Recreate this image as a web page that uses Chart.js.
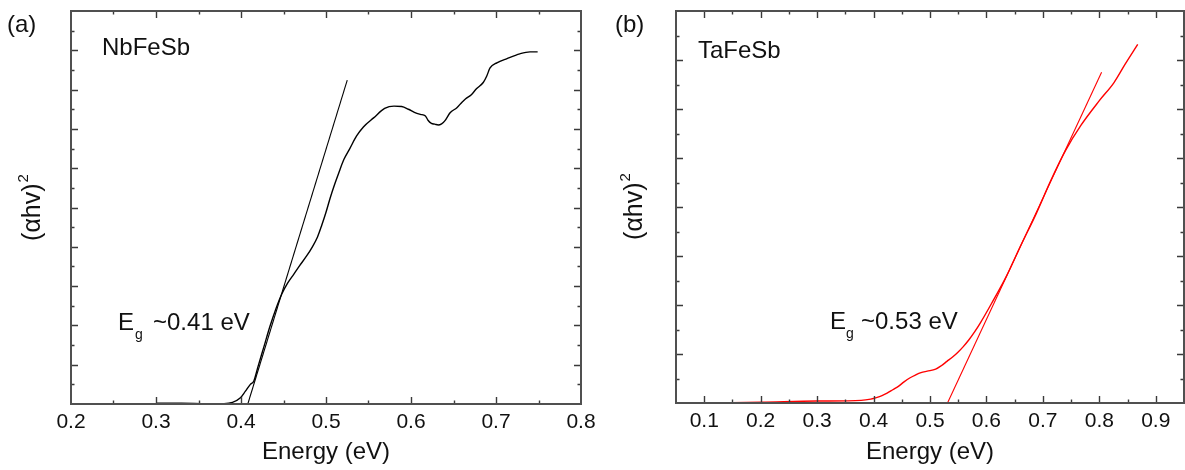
<!DOCTYPE html>
<html><head><meta charset="utf-8">
<script src="https://cdn.jsdelivr.net/npm/chart.js@4.4.1/dist/chart.umd.min.js"></script>
<style>
html,body{margin:0;padding:0;background:#fff;width:1185px;height:470px;overflow:hidden;}
#wa{position:absolute;left:0;top:0;width:600px;height:470px;}
#wb{position:absolute;left:600px;top:0;width:585px;height:470px;}
</style></head><body>
<div id="wa"><canvas id="ca" width="600" height="470"></canvas></div>
<div id="wb"><canvas id="cb" width="585" height="470"></canvas></div>
<script>
// ---- Panel (a): NbFeSb ----
const energyA = [0.300,0.330,0.360,0.380,0.390,0.399,0.405,0.411,0.415,0.420,0.427,0.434,0.441,0.448,0.455,0.462,0.469,0.477,0.484,0.490,0.495,0.500,0.505,0.510,0.515,0.521,0.528,0.536,0.544,0.556,0.569,0.580,0.589,0.597,0.604,0.611,0.617,0.620,0.624,0.628,0.632,0.636,0.640,0.646,0.654,0.660,0.664,0.671,0.677,0.685,0.689,0.693,0.701,0.713,0.728,0.740,0.749];
const absorptionA = [0.02,0.02,0.01,0.01,0.04,0.15,0.32,0.50,0.58,0.95,1.46,1.97,2.42,2.80,3.08,3.30,3.52,3.76,4.00,4.25,4.55,4.88,5.25,5.58,5.88,6.22,6.50,6.82,7.05,7.28,7.52,7.58,7.57,7.50,7.42,7.37,7.33,7.22,7.14,7.12,7.10,7.13,7.21,7.41,7.54,7.68,7.76,7.87,8.02,8.18,8.34,8.55,8.68,8.79,8.91,8.96,8.96];
const fitEnergyA = [0.408, 0.525];
const fitAbsorptionA = [0, 8.24];

// ---- Panel (b): TaFeSb ----
const energyB = [0.124,0.200,0.299,0.378,0.395,0.405,0.415,0.424,0.434,0.444,0.454,0.464,0.474,0.484,0.495,0.510,0.520,0.530,0.540,0.549,0.559,0.569,0.579,0.589,0.609,0.635,0.661,0.688,0.714,0.740,0.767,0.800,0.826,0.846,0.868];
const absorptionB = [0.00,0.014,0.04,0.054,0.08,0.11,0.15,0.20,0.27,0.34,0.43,0.51,0.57,0.62,0.65,0.69,0.76,0.85,0.94,1.03,1.15,1.29,1.45,1.63,2.03,2.58,3.22,3.86,4.54,5.15,5.66,6.17,6.54,6.92,7.32];
const fitEnergyB = [0.531, 0.804];
const fitAbsorptionB = [0, 6.75];

const xRangeA = [0.2, 0.8];
const xRangeB = [0.05, 0.95];
const yMaxA = 10;
const yMaxB = 8;

const FONT = "'Liberation Sans', Arial, Helvetica, sans-serif";

function isMajorX(v){ return Math.abs(v*10 - Math.round(v*10)) < 1e-6; }
function isMajorY(v){ return Math.abs(v - Math.round(v)) < 1e-6; }

const decorPlugin = {
  id: 'decor',
  afterDatasetsDraw(chart, args, o) {
    const {ctx, chartArea: a, scales: {x, y}} = chart;
    ctx.save();
    ctx.strokeStyle = '#3a3a3a'; ctx.lineWidth = 1.4;
    ctx.beginPath();
    x.ticks.forEach(t => {
      if (t.value <= x.min + 1e-9 || t.value >= x.max - 1e-9) return;
      const p = Math.round(x.getPixelForValue(t.value)) + 0.5;
      const L = isMajorX(t.value) ? 7 : 3.5;
      ctx.moveTo(p, a.bottom); ctx.lineTo(p, a.bottom - L);
      ctx.moveTo(p, a.top); ctx.lineTo(p, a.top + L);
    });
    y.ticks.forEach(t => {
      if (t.value <= y.min + 1e-9 || t.value >= y.max - 1e-9) return;
      const p = Math.round(y.getPixelForValue(t.value)) + 0.5;
      const L = isMajorY(t.value) ? 7 : 3.5;
      ctx.moveTo(a.left, p); ctx.lineTo(a.left + L, p);
      ctx.moveTo(a.right, p); ctx.lineTo(a.right - L, p);
    });
    ctx.stroke();
    ctx.strokeStyle = '#505050'; ctx.lineWidth = 2;
    ctx.strokeRect(a.left, a.top, a.right - a.left, a.bottom - a.top);

    ctx.fillStyle = '#111'; ctx.textBaseline = 'alphabetic'; ctx.textAlign = 'left';
    (o.texts || []).forEach(t => { ctx.font = t.size + 'px ' + FONT; ctx.fillText(t.text, t.x, t.y); });

    const yt = o.yTitle;
    ctx.translate(yt.x, yt.y); ctx.rotate(-Math.PI/2);
    ctx.font = '25px ' + FONT;
    const main = '(\u03B1hv)';
    const w1 = ctx.measureText(main).width;
    ctx.font = '15px ' + FONT;
    const w2 = ctx.measureText('2').width;
    const start = -(w1 + w2) / 2;
    ctx.font = '25px ' + FONT; ctx.fillText(main, start, 8);
    ctx.font = '15px ' + FONT; ctx.fillText('2', start + w1 + 1, -4);
    ctx.restore();
  }
};

function toPts(xs, ys){ return xs.map((e, i) => ({x: e, y: ys[i]})); }

function makeChart(id, c) {
  return new Chart(document.getElementById(id), {
    type: 'line',
    data: { datasets: [
      { data: toPts(c.curveE, c.curveV), borderColor: c.color, borderWidth: 1.4, pointRadius: 0, cubicInterpolationMode: 'monotone', fill: false },
      { data: toPts(c.fitE, c.fitV), borderColor: c.color, borderWidth: 1.1, pointRadius: 0, fill: false }
    ]},
    options: {
      responsive: false, animation: false, devicePixelRatio: 1,
      layout: { padding: { top: 11, right: c.padRight, left: 0, bottom: 0 } },
      plugins: {
        legend: { display: false }, tooltip: { enabled: false },
        decor: { texts: c.texts, yTitle: c.yTitle }
      },
      scales: {
        x: {
          type: 'linear', min: c.xRange[0], max: c.xRange[1],
          afterFit: s => { s.height = c.xH; s.paddingLeft = 0; s.paddingRight = 0; },
          grid: { display: false, drawTicks: false }, border: { display: false },
          ticks: {
            stepSize: 0.05, autoSkip: false, maxRotation: 0, minRotation: 0, padding: 6,
            color: '#111', font: { family: FONT, size: 21 },
            callback: v => isMajorX(v) ? (Math.round(v*10)/10).toFixed(1) : ''
          },
          title: { display: true, text: 'Energy (eV)', color: '#111', font: { family: FONT, size: 24 }, padding: { top: 0, bottom: 3 } }
        },
        y: {
          type: 'linear', min: 0, max: c.yMax,
          afterFit: s => { s.width = c.yW; s.paddingTop = 0; s.paddingBottom = 0; },
          grid: { display: false, drawTicks: false }, border: { display: false },
          ticks: { display: false, stepSize: 0.5 }
        }
      }
    },
    plugins: [decorPlugin]
  });
}

makeChart('ca', {
  curveE: energyA, curveV: absorptionA, fitE: fitEnergyA, fitV: fitAbsorptionA,
  color: '#000000', xRange: xRangeA, yMax: yMaxA, xH: 66, yW: 71, padRight: 19,
  texts: [
    { text: '(a)', x: 7, y: 32, size: 24 },
    { text: 'NbFeSb', x: 102, y: 55, size: 24 },
    { text: 'E', x: 118, y: 330, size: 24 },
    { text: 'g', x: 135, y: 339, size: 14 },
    { text: '~0.41 eV', x: 153, y: 330, size: 24 }
  ],
  yTitle: { x: 32, y: 208 }
});

makeChart('cb', {
  curveE: energyB, curveV: absorptionB, fitE: fitEnergyB, fitV: fitAbsorptionB,
  color: '#ff0000', xRange: xRangeB, yMax: yMaxB, xH: 67, yW: 76, padRight: 1,
  texts: [
    { text: '(b)', x: 15, y: 32, size: 24 },
    { text: 'TaFeSb', x: 98, y: 58, size: 24 },
    { text: 'E', x: 230, y: 329, size: 24 },
    { text: 'g', x: 246, y: 338, size: 14 },
    { text: '~0.53 eV', x: 261, y: 329, size: 24 }
  ],
  yTitle: { x: 34, y: 207 }
});
</script>
</body></html>
